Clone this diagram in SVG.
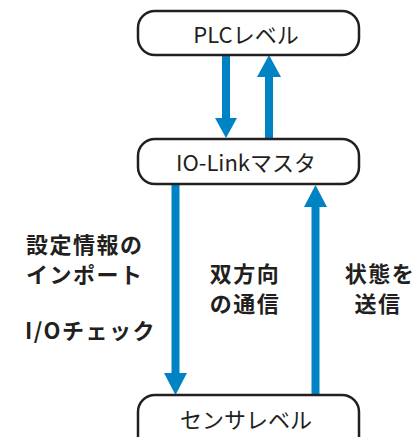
<svg xmlns="http://www.w3.org/2000/svg" width="419" height="437" viewBox="0 0 419 437">
<style>
.box{fill:#fff;stroke:#231f20;stroke-width:2.5}
.t{font-family:"Noto Sans CJK JP","Noto Sans",sans-serif;font-size:22px;fill:#231f20;text-anchor:middle}
.b{font-family:"Noto Sans CJK JP","Noto Sans",sans-serif;font-size:22px;font-weight:bold;fill:#231f20;letter-spacing:1.5px}
.ar{fill:#0083c4}
</style>
<g id="connectors">
<path class="ar" d="M222 55 H230 V118 H237 L226 138 L215 118 H222 Z"/>
<path class="ar" d="M265 138 H273 V77 H281 L269 55 L257 77 H265 Z"/>
<path class="ar" d="M171.5 185 H179.5 V373 H187 L175.5 395 L164 373 H171.5 Z"/>
<path class="ar" d="M311.5 395 H319.5 V207 H327 L315.5 185 L304 207 H311.5 Z"/>
</g>
<g id="plc">
<rect class="box" x="138" y="11" width="221" height="44" rx="17"/>
<text class="t" x="246" y="43">PLCレベル</text>
</g>
<g id="iolink">
<rect class="box" x="138" y="139" width="221" height="45" rx="17"/>
<text class="t" x="246" y="171">IO-Linkマスタ</text>
</g>
<g id="sensor">
<rect class="box" x="138" y="395" width="221" height="60" rx="17"/>
<text class="t" x="246" y="428">センサレベル</text>
</g>
<g id="labels">
<text class="b" x="26" y="253">設定情報の</text>
<text class="b" x="26" y="283">インポート</text>
<text class="b" x="25" y="339">I/Oチェック</text>
<text class="b" x="245" y="282" text-anchor="middle">双方向</text>
<text class="b" x="245" y="312" text-anchor="middle">の通信</text>
<text class="b" x="380" y="282" text-anchor="middle">状態を</text>
<text class="b" x="378" y="312" text-anchor="middle">送信</text>
</g>
</svg>
